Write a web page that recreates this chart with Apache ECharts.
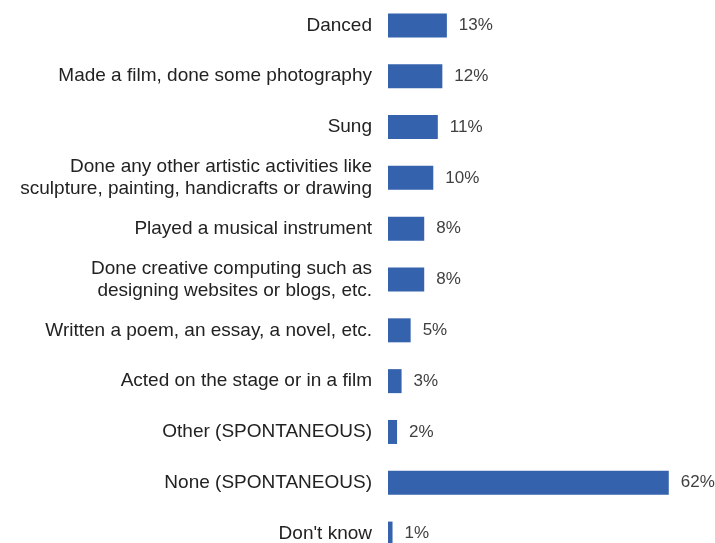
<!DOCTYPE html>
<html><head><meta charset="utf-8">
<script src="https://cdn.jsdelivr.net/npm/echarts@6/dist/echarts.min.js"></script>
<style>html,body{margin:0;padding:0;background:#fff}#c{width:715px;height:543px}</style>
</head><body><div id="c"></div>
<script>
var categories = [
  "Danced",
  "Made a film, done some photography",
  "Sung",
  "Done any other artistic activities like\nsculpture, painting, handicrafts or drawing",
  "Played a musical instrument",
  "Done creative computing such as\ndesigning websites or blogs, etc.",
  "Written a poem, an essay, a novel, etc.",
  "Acted on the stage or in a film",
  "Other (SPONTANEOUS)",
  "None (SPONTANEOUS)",
  "Don't know"
];
var values = [13, 12, 11, 10, 8, 8, 5, 3, 2, 62, 1];

var chart = echarts.init(document.getElementById('c'));
chart.setOption({
  animation: false,
  grid: {left: 388, right: 10, top: 0, height: 559, containLabel: false, outerBoundsMode: 'none'},
  xAxis: {type: 'value', min: 0, max: 70, show: false},
  yAxis: {
    type: 'category', data: categories, inverse: true,
    axisLine: {show: false}, axisTick: {show: false},
    axisLabel: {margin: 16, fontFamily: 'Liberation Sans, Arial, sans-serif', fontSize: 19, color: '#222', lineHeight: 22}
  },
  series: [{
    type: 'bar', data: values, barWidth: 24,
    itemStyle: {color: '#3562ad'},
    label: {show: true, position: 'right', distance: 12, formatter: '{c}%',
      fontFamily: 'Liberation Sans, Arial, sans-serif', fontSize: 17, color: '#404040'}
  }]
});
</script></body></html>
